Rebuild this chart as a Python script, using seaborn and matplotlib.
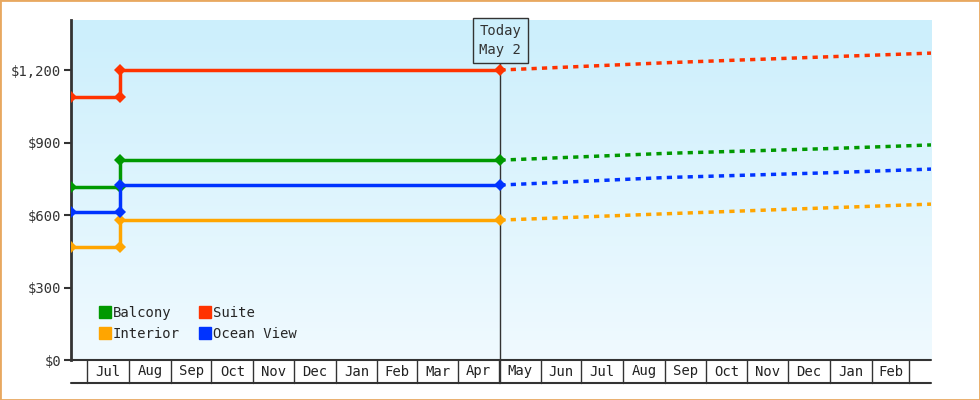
import numpy as np
import pandas as pd
import matplotlib
matplotlib.use("Agg")
import matplotlib.pyplot as plt
import matplotlib.dates as mdates
import matplotlib.transforms as mtrans
from matplotlib.lines import Line2D
from matplotlib.colors import LinearSegmentedColormap
import seaborn as sns

sns.set_style("white")
plt.rcParams['font.family'] = ['DejaVu Sans Mono', 'DejaVu Sans']

series = ["Balcony", "Interior", "Suite", "Ocean View"]
colors = {"Balcony": "#009900", "Interior": "#ffa500", "Suite": "#ff3300", "Ocean View": "#0033ff"}
start_date = "2023-06-19"
change_date = "2023-07-25"
today_date = "2024-05-02"
end_date = "2025-03-17"
price_before = {"Balcony": 716, "Interior": 468, "Suite": 1090, "Ocean View": 612}
price_after = {"Balcony": 827, "Interior": 579, "Suite": 1200, "Ocean View": 724}
proj_dates = ["2024-05-02", "2024-09-01", "2025-01-01", "2025-03-17"]
proj_values = {
    "Balcony": [827, 855, 875, 890],
    "Interior": [579, 605, 630, 645],
    "Suite": [1200, 1230, 1255, 1270],
    "Ocean View": [724, 755, 775, 790],
}
month_labels = ["Jul", "Aug", "Sep", "Oct", "Nov", "Dec", "Jan", "Feb", "Mar", "Apr",
                "May", "Jun", "Jul", "Aug", "Sep", "Oct", "Nov", "Dec", "Jan", "Feb"]
yticks = [0, 300, 600, 900, 1200]

fig = plt.figure(figsize=(9.8, 4), dpi=100)
ax = fig.add_axes([71/980, 40/400, 860/980, 340/400])

x0, x1 = mdates.datestr2num(start_date), mdates.datestr2num(end_date)
grad = np.linspace(0, 1, 256).reshape(-1, 1)
cm = LinearSegmentedColormap.from_list("bg", ["#cceffc", "#f0faff"])
ax.imshow(grad, aspect="auto", cmap=cm, origin="upper", extent=[0, 1, 0, 1],
          transform=ax.transAxes, zorder=0)

for s in series:
    hist = pd.DataFrame({
        "date": pd.to_datetime([start_date, change_date, change_date, today_date]),
        "price": [price_before[s], price_before[s], price_after[s], price_after[s]],
    })
    sns.lineplot(data=hist, x="date", y="price", sort=False, estimator=None, color=colors[s], lw=2.5,
                 marker="D", markersize=6, markeredgewidth=0, ax=ax, zorder=3)
    proj = pd.DataFrame({"date": pd.to_datetime(proj_dates), "price": proj_values[s]})
    sns.lineplot(data=proj, x="date", y="price", sort=False, estimator=None, color=colors[s], lw=2.5,
                 linestyle=(0, (1.5, 1.5)), ax=ax, zorder=2)

ax.set_xlim(x0, x1)
ax.set_ylim(0, 1407)
ax.set_yticks(yticks)
ax.set_yticklabels([f"${v:,}" for v in yticks], fontsize=10, color="#333333")
ax.tick_params(axis="y", length=5, width=1.5, color="#333333", pad=2, left=True)
ax.set_xticks([])
ax.set_xlabel(""); ax.set_ylabel("")
for sp in ["top", "right", "bottom"]:
    ax.spines[sp].set_visible(False)
ax.spines["left"].set_color("#333333")
ax.spines["left"].set_linewidth(2)

trans = mtrans.blended_transform_factory(ax.transData, ax.transAxes)
bottom_y = -23/340
ax.plot([x0, x1], [bottom_y, bottom_y], transform=trans, color="#333333", lw=1.5, clip_on=False)
ax.plot([x0, x1], [0, 0], transform=trans, color="#333333", lw=1.5, clip_on=False)
months = pd.date_range("2023-07-01", "2025-03-01", freq="MS")
for i, m in enumerate(months):
    mx = mdates.date2num(m)
    ax.plot([mx, mx], [0, bottom_y], transform=trans, color="#333333", lw=1, clip_on=False)
    if i < len(month_labels):
        nx = mdates.date2num(months[i + 1])
        ax.text((mx + nx) / 2, bottom_y / 2, month_labels[i], transform=trans,
                ha="center", va="center", fontsize=10, color="#222222")

tx = mdates.datestr2num(today_date)
ax.plot([tx, tx], [bottom_y, 1], transform=trans, color="#333333", lw=1, clip_on=False, zorder=1)
ax.text(tx, 0.94, "Today\nMay 2", transform=trans, ha="center", va="center", fontsize=10,
        color="#333333", linespacing=1.4,
        bbox=dict(boxstyle="square,pad=0.45", fc="#cdeffc", ec="#333333", lw=1), zorder=5)

handles = [Line2D([], [], marker="s", ls="", color=colors[s], markersize=9) for s in series]
ax.legend(handles, series, ncol=2, loc="lower left", bbox_to_anchor=(0.015, 0.02), frameon=False,
          fontsize=10, handletextpad=0.0, columnspacing=1.2, labelspacing=0.5, handlelength=1.2)

fig.patches.append(matplotlib.patches.Rectangle((0, 0), 1, 1, transform=fig.transFigure,
                                                fill=False, ec="#e8a860", lw=2))
fig.savefig("out.png", dpi=100)
